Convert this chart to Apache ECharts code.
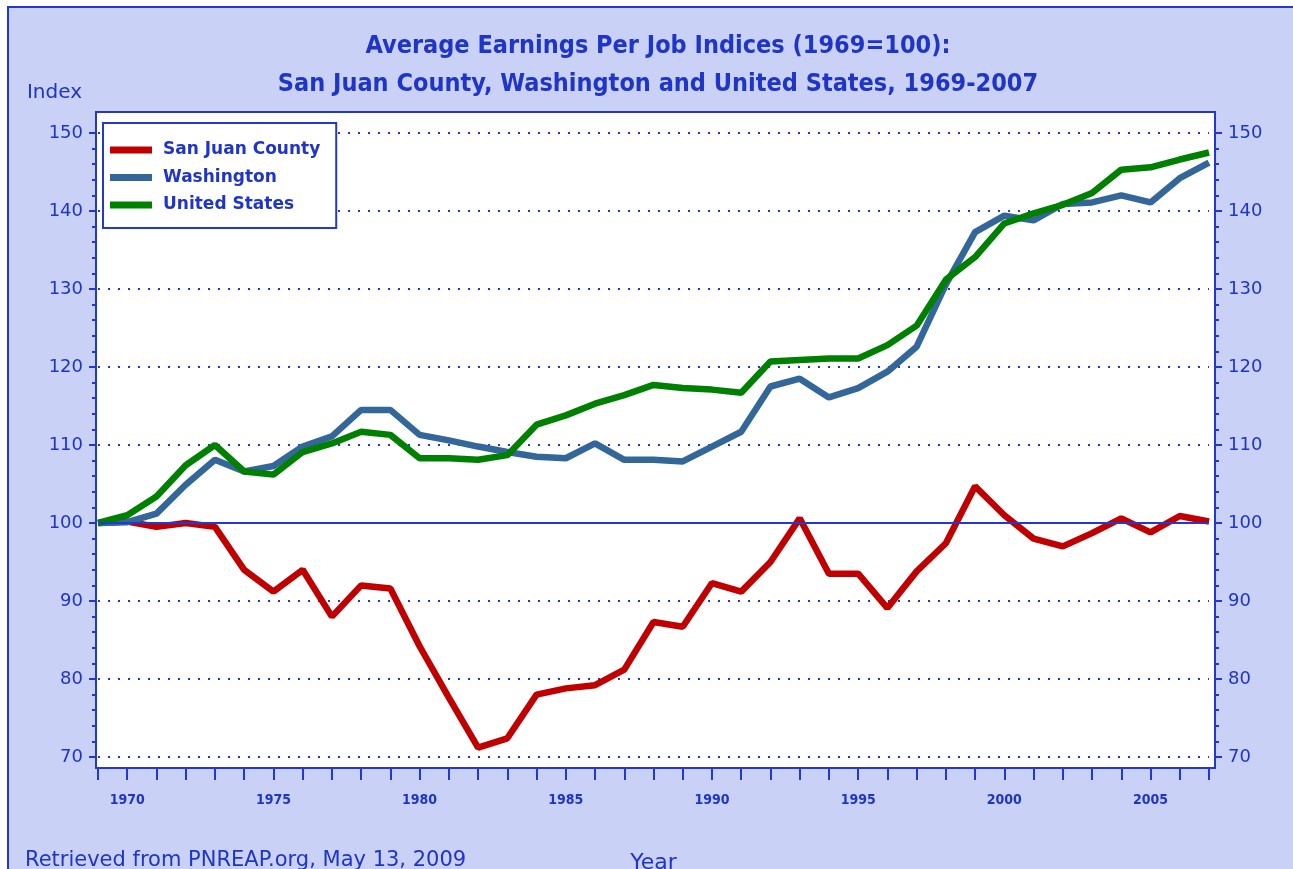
<!DOCTYPE html>
<html>
<head>
<meta charset="utf-8">
<script src="https://cdn.jsdelivr.net/npm/echarts/dist/echarts.min.js"></script>
<style>
  html, body { margin: 0; padding: 0; background: #ffffff; overflow: hidden; }
  #chart { width: 1293px; height: 869px; }
</style>
</head>
<body>
<div id="chart"></div>
<script>
// years 1969 .. 2007
const years = [1969, 1970, 1971, 1972, 1973, 1974, 1975, 1976, 1977, 1978,
  1979, 1980, 1981, 1982, 1983, 1984, 1985, 1986, 1987, 1988,
  1989, 1990, 1991, 1992, 1993, 1994, 1995, 1996, 1997, 1998,
  1999, 2000, 2001, 2002, 2003, 2004, 2005, 2006, 2007]

const sanJuan = [100, 100.2, 99.5, 100, 99.5, 94, 91.2, 94, 88, 92,
  91.6, 84.2, 77.6, 71.2, 72.4, 78, 78.8, 79.2, 81.2, 87.3,
  86.7, 92.3, 91.2, 95, 100.6, 93.5, 93.5, 89.1, 93.8, 97.4,
  104.7, 101, 98, 97, 98.7, 100.6, 98.8, 100.9, 100.2]

const washington = [100, 100.1, 101.2, 104.9, 108.1, 106.6, 107.3, 109.8, 111.1, 114.5,
  114.5, 111.3, 110.6, 109.8, 109.1, 108.5, 108.3, 110.2, 108.1, 108.1,
  107.9, 109.8, 111.7, 117.5, 118.5, 116.1, 117.3, 119.4, 122.6, 130.6,
  137.3, 139.4, 138.8, 140.9, 141.1, 142, 141.1, 144.2, 146.2]

const unitedStates = [100, 101, 103.4, 107.4, 110, 106.6, 106.2, 109.1, 110.2, 111.7,
  111.3, 108.3, 108.3, 108.1, 108.7, 112.6, 113.8, 115.3, 116.4, 117.7,
  117.3, 117.1, 116.7, 120.7, 120.9, 121.1, 121.1, 122.8, 125.3, 131.2,
  134.1, 138.4, 139.7, 140.8, 142.3, 145.3, 145.6, 146.6, 147.5]

const seriesNames = ['San Juan County', 'Washington', 'United States']
const seriesColors = ['#c00000', '#336699', '#008000']

const BLUE = '#2238d0'
const TEXT_BLUE = '#1f35c8'
const BG = '#c9d1f6'

function pairs (vals) {
    return years.map(function (y, i) { return [y, vals[i]] })
}

const myChart = echarts.init(document.getElementById('chart'), null, { renderer: 'canvas' })

const yAxisBase = {
    type: 'value',
    min: 70,
    max: 150,
    interval: 10,
    axisLine: { show: true, lineStyle: { color: BLUE, width: 2 } },
    axisTick: { show: true, length: 7, lineStyle: { color: BLUE, width: 2 } },
    minorTick: { show: true, splitNumber: 5, length: 4, lineStyle: { color: BLUE, width: 2 } },
    axisLabel: {
        color: TEXT_BLUE,
        fontFamily: 'DejaVu Sans',
        fontSize: 18,
        margin: 13
    }
}

const option = {
    backgroundColor: '#ffffff',
    animation: false,
    title: {
        text: 'Average Earnings Per Job Indices (1969=100):\nSan Juan County, Washington and United States, 1969-2007',
        left: 653,
        top: 22,
        textAlign: 'center',
        textStyle: {
            color: TEXT_BLUE,
            fontFamily: "'DejaVu Sans Condensed', sans-serif",
            fontWeight: 'bold',
            fontSize: 25,
            lineHeight: 38
        }
    },
    graphic: [
        {
            type: 'rect',
            z: -200,
            silent: true,
            shape: { x: 8, y: 7, width: 1300, height: 900 },
            style: { fill: BG, stroke: BLUE, lineWidth: 2 }
        },
        {
            type: 'rect',
            z: -100,
            silent: true,
            shape: { x: 96, y: 112, width: 1119, height: 656 },
            style: { fill: '#ffffff', stroke: BLUE, lineWidth: 2 }
        },
        {
            type: 'text',
            left: 25,
            top: 850,
            silent: true,
            style: {
                text: 'Retrieved from PNREAP.org, May 13, 2009',
                fill: TEXT_BLUE,
                font: '21px "DejaVu Sans"'
            }
        }
    ],
    legend: {
        orient: 'vertical',
        left: 103,
        top: 123,
        icon: 'rect',
        itemWidth: 42,
        itemHeight: 7,
        itemGap: 9.5,
        padding: [18, 16, 14, 7],
        backgroundColor: '#ffffff',
        borderColor: BLUE,
        borderWidth: 2,
        borderRadius: 0,
        textStyle: {
            color: TEXT_BLUE,
            fontFamily: 'DejaVu Sans',
            fontWeight: 'bold',
            fontSize: 17,
            lineHeight: 18,
            padding: [0, 0, 0, 6]
        },
        data: seriesNames
    },
    grid: {
        left: 98,
        right: 84,
        top: 133,
        bottom: 112,
        containLabel: false,
        outerBoundsMode: 'none'
    },
    xAxis: {
        type: 'value',
        min: 1969,
        max: 2007,
        interval: 1,
        offset: 11,
        name: 'Year',
        nameLocation: 'middle',
        nameGap: 84,
        nameTextStyle: { color: TEXT_BLUE, fontFamily: 'DejaVu Sans', fontSize: 22 },
        axisLine: { show: true, lineStyle: { color: BLUE, width: 2 } },
        axisTick: { show: true, length: 12, lineStyle: { color: BLUE, width: 2 } },
        splitLine: { show: false },
        axisLabel: {
            color: TEXT_BLUE,
            fontFamily: 'DejaVu Sans Condensed',
            fontWeight: 'bold',
            fontSize: 14,
            margin: 25,
            formatter: function (v) {
                return v % 5 === 0 ? String(v) : ''
            }
        }
    },
    yAxis: [
        Object.assign({}, yAxisBase, {
            position: 'left',
            offset: 2,
            name: 'Index',
            nameLocation: 'end',
            nameGap: 30,
            nameTextStyle: {
                color: TEXT_BLUE,
                fontFamily: 'DejaVu Sans',
                fontSize: 20,
                align: 'right',
                padding: [0, 14, 0, 0]
            },
            splitLine: {
                show: true,
                lineStyle: { color: BLUE, width: 2, type: [2, 8] }
            }
        }),
        Object.assign({}, yAxisBase, {
            position: 'right',
            offset: 6,
            splitLine: { show: false }
        })
    ],
    series: [
        {
            name: seriesNames[0],
            type: 'line',
            data: pairs(sanJuan),
            color: seriesColors[0],
            showSymbol: false,
            symbol: 'none',
            lineStyle: { width: 6.5, color: seriesColors[0] },
            markLine: {
                silent: true,
                symbol: 'none',
                label: { show: false },
                lineStyle: { color: BLUE, width: 2, type: 'solid' },
                data: [{ yAxis: 100 }]
            }
        },
        {
            name: seriesNames[1],
            type: 'line',
            data: pairs(washington),
            color: seriesColors[1],
            showSymbol: false,
            symbol: 'none',
            lineStyle: { width: 6.5, color: seriesColors[1] }
        },
        {
            name: seriesNames[2],
            type: 'line',
            data: pairs(unitedStates),
            color: seriesColors[2],
            showSymbol: false,
            symbol: 'none',
            lineStyle: { width: 6.5, color: seriesColors[2] }
        }
    ]
}

myChart.setOption(option)
</script>
</body>
</html>
